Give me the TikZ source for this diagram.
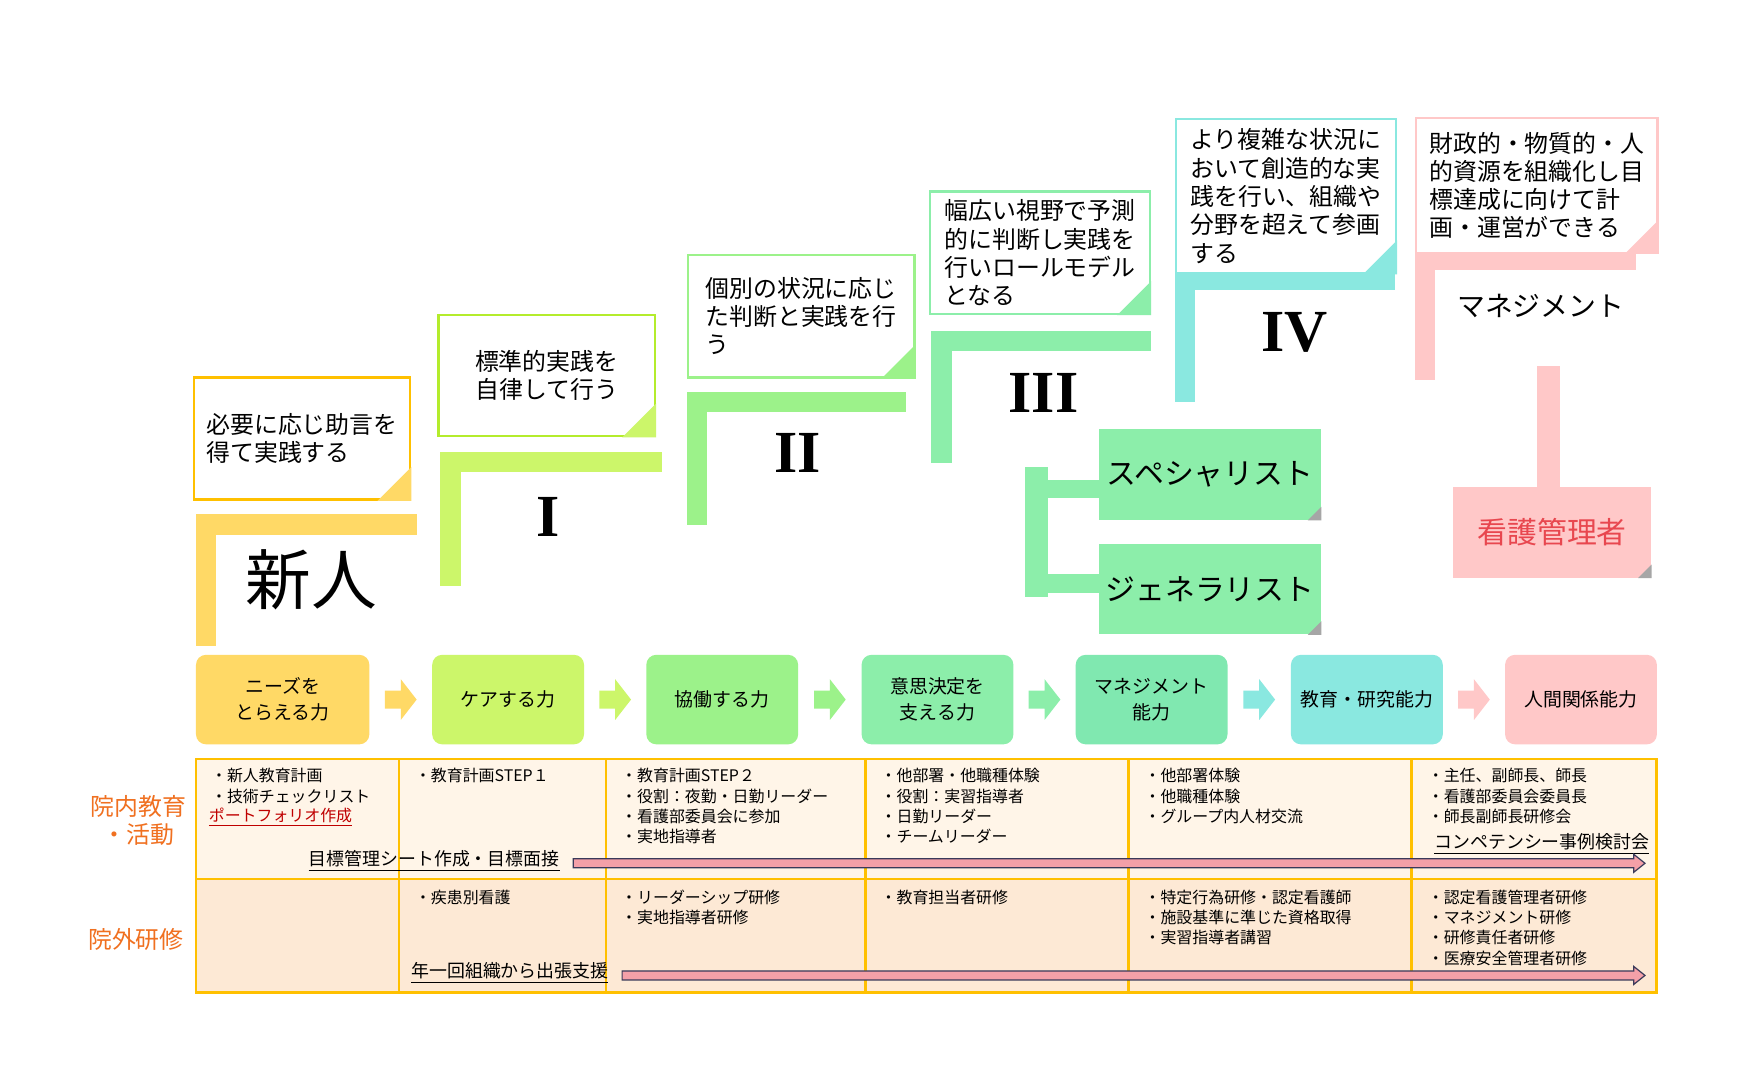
\documentclass[tikz,border=0pt]{standalone}
\usepackage{fontspec}
\setmainfont{Noto Sans CJK JP}
\newfontfamily\romfont{Liberation Serif}
\usetikzlibrary{positioning,calc}

\definecolor{yel}{HTML}{FFD966}
\definecolor{yelline}{HTML}{FFC000}
\definecolor{lim}{HTML}{CCF66A}
\definecolor{limline}{HTML}{B4EC2C}
\definecolor{grn}{HTML}{9CF28A}
\definecolor{mnt}{HTML}{8CEEAA}
\definecolor{mgm}{HTML}{80E8B0}
\definecolor{aqu}{HTML}{8AE8E0}
\definecolor{pnk}{HTML}{FFC8C8}
\definecolor{redtxt}{HTML}{E8474F}
\definecolor{orgtxt}{HTML}{F07020}
\definecolor{rowA}{HTML}{FFF5E8}
\definecolor{rowB}{HTML}{FDE9D5}
\definecolor{arrfill}{HTML}{F4A0A8}
\definecolor{arrline}{HTML}{3A3A5A}

\tikzset{
  note/.style={draw=#1,line width=1.2pt,fill=white,anchor=north west,
    font=\fontsize{12}{14.2}\selectfont,align=left,inner xsep=6pt},
  abil/.style={fill=#1,rounded corners=5pt,minimum width=134*0.02cm,
    minimum height=79*0.02cm,align=center,font=\fontsize{9.5}{13}\selectfont},
  cell/.style={anchor=north west,align=left,inner sep=0pt,
    font=\fontsize{8}{10.2}\selectfont},
  roman/.style={font=\romfont\bfseries\fontsize{30}{30}\selectfont},
  side/.style={box/.style={fill=mnt,minimum width=196*0.02cm,
    minimum height=80*0.02cm,font=\fontsize{15}{15}\selectfont}},
  under/.style={font=\fontsize{9}{11}\selectfont,inner sep=1pt}
}
\newcommand\fold[2]{\fill[#2] ([xshift=-30*0.02cm]#1.south east) -- (#1.south east)
  -- ([yshift=30*0.02cm]#1.south east) -- cycle;}
\newcommand\gfold[1]{\fill[gray!70] ([xshift=-12*0.02cm]#1.south east) -- (#1.south east)
  -- ([yshift=12*0.02cm]#1.south east) -- cycle;}
\newcommand\blockarrow[3]{%
  \coordinate (m) at ($(#1.east)!0.5!(#2.west)$);
  \fill[#3] ($(m)+(-14,-8)$) -- ($(m)+(0,-8)$) -- ($(m)+(0,-18)$) -- ($(m)+(14,0)$)
    -- ($(m)+(0,18)$) -- ($(m)+(0,8)$) -- ($(m)+(-14,8)$) -- cycle;}
\newcommand\longarrow[2]{%
  \filldraw[fill=arrfill,draw=arrline,line width=0.6pt]
    ($(#1)+(0,-4)$) -- ($(#2)+(-10,-4)$) -- ($(#2)+(-10,-8)$) -- (#2)
    -- ($(#2)+(-10,8)$) -- ($(#2)+(-10,4)$) -- ($(#1)+(0,4)$) -- cycle;}

\begin{document}
\begin{tikzpicture}[x=0.02cm,y=-0.02cm]
  \useasboundingbox[fill=white] (0,0) rectangle (1550,961);

  % stair bars
  \fill[yel] (173,454) rectangle (368,472);  \fill[yel] (173,454) rectangle (191,570);
  \fill[lim] (388,399) rectangle (584,417);  \fill[lim] (388,399) rectangle (407,517);
  \fill[grn] (606,346) rectangle (800,364);  \fill[grn] (606,346) rectangle (624,463);
  \fill[mnt] (822,292) rectangle (1016,310); \fill[mnt] (822,292) rectangle (840,409);
  \fill[aqu] (1037,238) rectangle (1231,256); \fill[aqu] (1037,238) rectangle (1055,355);
  \fill[pnk] (1249,222) rectangle (1444,238); \fill[pnk] (1249,222) rectangle (1267,335);
  \fill[pnk] (1357,323) rectangle (1377,432);
  \fill[mnt] (905,412) rectangle (925,527);
  \fill[mnt] (925,424) rectangle (972,440);
  \fill[mnt] (925,507) rectangle (972,523);

  % level notes
  \node[note=yelline,minimum width=191*0.02cm,minimum height=108*0.02cm] (n0) at (170,332)
    {必要に応じ助言を\\得て実践する};
  \fold{n0}{yel}
  \node[note=limline,align=center,minimum width=191*0.02cm,minimum height=107*0.02cm] (n1) at (386,277)
    {標準的実践を\\自律して行う};
  \fold{n1}{lim}
  \node[note=grn,minimum width=200*0.02cm,minimum height=108*0.02cm] (n2) at (606,224)
    {個別の状況に応じ\\た判断と実践を行\\う};
  \fold{n2}{grn}
  \node[note=mnt,minimum width=194*0.02cm,minimum height=108*0.02cm] (n3) at (820,168)
    {幅広い視野で予測\\的に判断し実践を\\行いロールモデル\\となる};
  \fold{n3}{mnt}
  \node[note=aqu,minimum width=194*0.02cm,minimum height=136*0.02cm] (n4) at (1037,104)
    {より複雑な状況に\\おいて創造的な実\\践を行い、組織や\\分野を超えて参画\\する};
  \fold{n4}{aqu}
  \node[note=pnk,minimum width=213*0.02cm,minimum height=119*0.02cm] (n5) at (1249,103)
    {財政的・物質的・人\\的資源を組織化し目\\標達成に向けて計\\画・運営ができる};
  \fold{n5}{pnk}

  % level names
  \node[font=\fontsize{33}{33}\selectfont] (l0) at (275,512) {新人};
  \node[roman] (l1) at (484,456) {I};
  \node[roman] (l2) at (704,400) {II};
  \node[roman] (l3) at (921,347) {III};
  \node[roman] (l4) at (1143,293) {IV};
  \node[font=\fontsize{14}{14}\selectfont] (l5) at (1360,270) {マネジメント};

  % career branches
  \begin{scope}[side]
    \node[box] (sp) at (1068,419) {スペシャリスト};
    \node[box] (ge) at (1068,520) {ジェネラリスト};
  \end{scope}
  \gfold{sp} \gfold{ge}
  \node[fill=pnk,minimum width=175*0.02cm,minimum height=80*0.02cm,text=redtxt,
    font=\fontsize{15}{15}\selectfont] (mg) at (1370,470) {看護管理者};
  \gfold{mg}

  % abilities
  \node[abil=yel,minimum width=153*0.02cm] (a1) at (249.5,617.5) {ニーズを\\とらえる力};
  \node[abil=lim] (a2) at (448.5,617.5) {ケアする力};
  \node[abil=grn] (a3) at (637.5,617.5) {協働する力};
  \node[abil=mnt] (a4) at (827.5,617.5) {意思決定を\\支える力};
  \node[abil=mgm] (a5) at (1016.5,617.5) {マネジメント\\能力};
  \node[abil=aqu] (a6) at (1206.5,617.5) {教育・研究能力};
  \node[abil=pnk] (a7) at (1395.5,617.5) {人間関係能力};
  \blockarrow{a1}{a2}{yel}
  \blockarrow{a2}{a3}{lim}
  \blockarrow{a3}{a4}{grn}
  \blockarrow{a4}{a5}{mnt}
  \blockarrow{a5}{a6}{aqu}
  \blockarrow{a6}{a7}{pnk}

  % table
  \fill[rowA] (173,670) rectangle (1462,776);
  \fill[rowB] (173,776) rectangle (1462,876);
  \draw[yelline,line width=1.2pt] (173,670) rectangle (1462,876) (173,776) -- (1462,776);
  \foreach \cx in {352,535,764,996,1246}
    \draw[yelline,line width=1.2pt] (\cx,670) -- (\cx,876);

  \node[text=orgtxt,align=center,font=\fontsize{12}{14}\selectfont] (h1) at (122,724) {院内教育\\・活動};
  \node[text=orgtxt,font=\fontsize{12}{14}\selectfont] (h2) at (120,829) {院外研修};

  \node[cell] (c11) at (186,678) {・新人教育計画\\・技術チェックリスト};
  \node[cell,text=red!75!black,font=\fontsize{8}{10}\selectfont] (pf) at (184,713) {\underline{ポートフォリオ作成}};
  \node[cell] (c12) at (366,678) {・教育計画STEP１};
  \node[cell] (c13) at (548,678) {・教育計画STEP２\\・役割：夜勤・日勤リーダー\\・看護部委員会に参加\\・実地指導者};
  \node[cell] (c14) at (777,678) {・他部署・他職種体験\\・役割：実習指導者\\・日勤リーダー\\・チームリーダー};
  \node[cell] (c15) at (1010,678) {・他部署体験\\・他職種体験\\・グループ内人材交流};
  \node[cell] (c16) at (1260,678) {・主任、副師長、師長\\・看護部委員会委員長\\・師長副師長研修会};
  \node[cell] (c22) at (366,785) {・疾患別看護};
  \node[cell] (c23) at (548,785) {・リーダーシップ研修\\・実地指導者研修};
  \node[cell] (c24) at (777,785) {・教育担当者研修};
  \node[cell] (c25) at (1010,785) {・特定行為研修・認定看護師\\・施設基準に準じた資格取得\\・実習指導者講習};
  \node[cell] (c26) at (1260,785) {・認定看護管理者研修\\・マネジメント研修\\・研修責任者研修\\・医療安全管理者研修};

  \node[under,anchor=east] (t1) at (496,760) {\underline{目標管理シート作成・目標面接}};
  \node[under,anchor=east] (t2) at (1458,745) {\underline{コンペテンシー事例検討会}};
  \node[under,anchor=west] (t3) at (361,859) {\underline{年一回組織から出張支援}};
  \coordinate (e1) at (1452,762);
  \coordinate (e2) at (1452,861);
  \longarrow{$(t1.east)+(10,2)$}{e1}
  \longarrow{$(t3.east)+(10,2)$}{e2}
\end{tikzpicture}
\end{document}
